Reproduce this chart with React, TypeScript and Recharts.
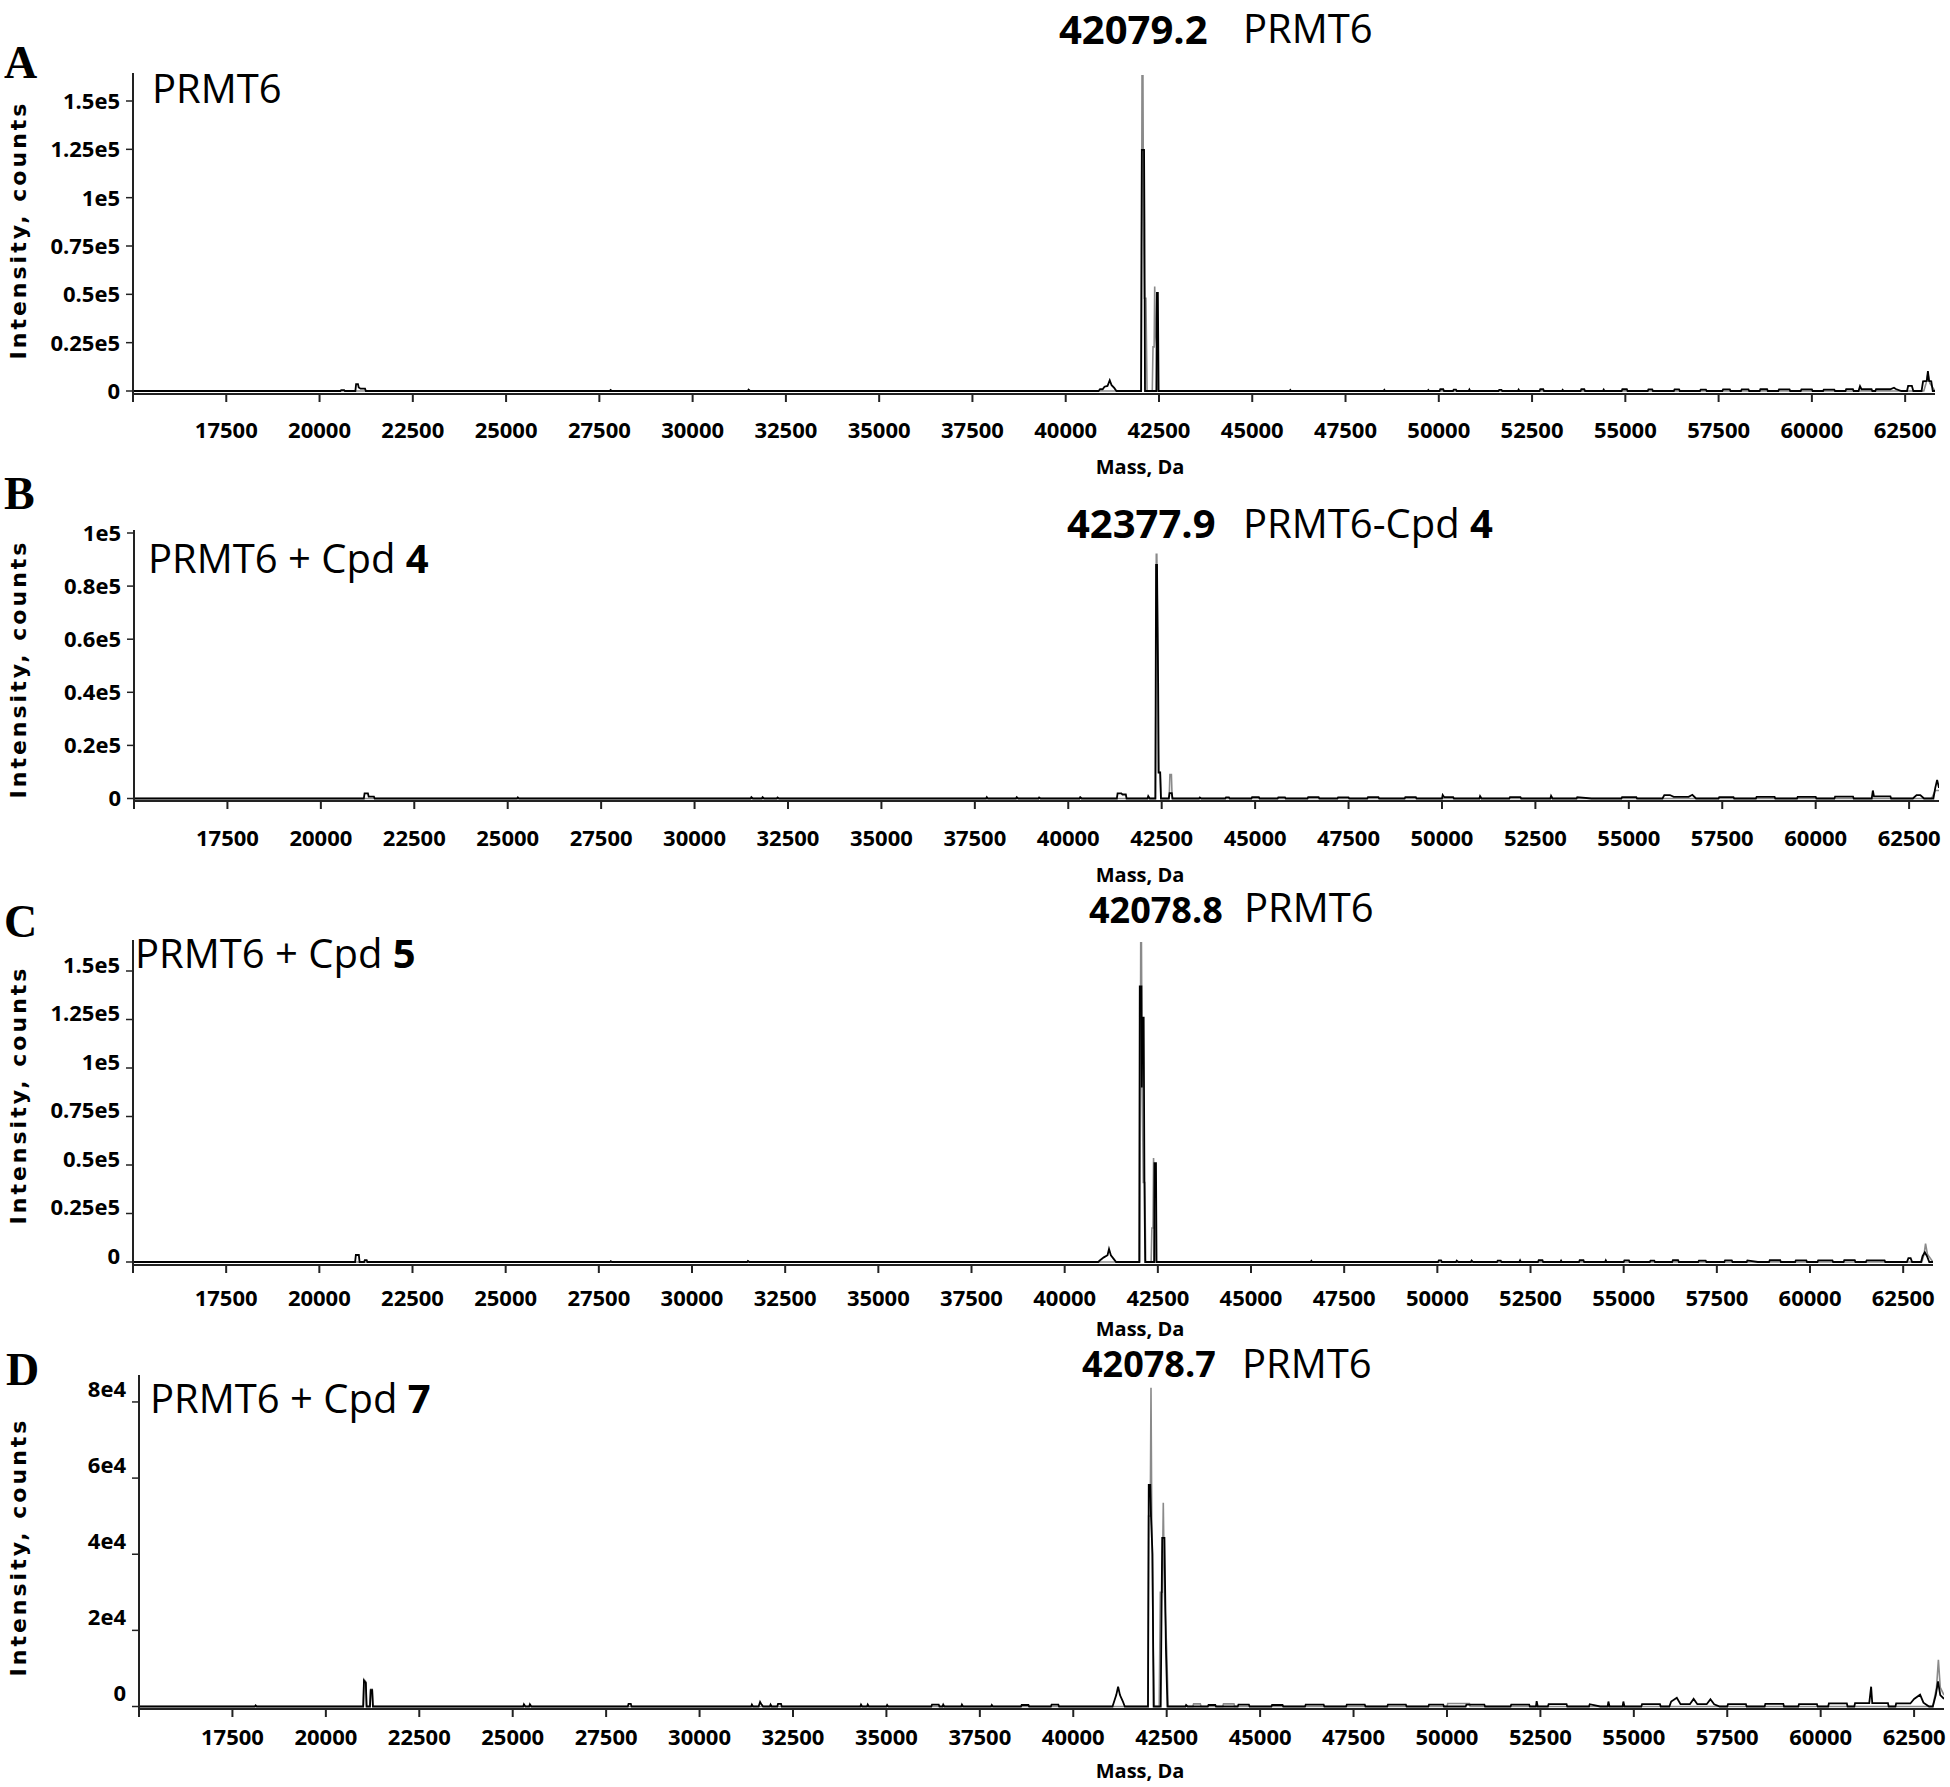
import { LineChart, Line, XAxis, YAxis } from 'recharts';

// deconvoluted intact-mass spectra, PRMT6 +/- compounds
// each trace is [mass (Da), intensity (counts)]

const X_TICKS = [15000, 17500, 20000, 22500, 25000, 27500, 30000, 32500, 35000, 37500, 40000, 42500, 45000, 47500, 50000, 52500, 55000, 57500, 60000, 62500];

const AC_Y_TICKS = [0, 25000, 50000, 75000, 100000, 125000, 150000];
const AC_Y_LABELS = ['0', '0.25e5', '0.5e5', '0.75e5', '1e5', '1.25e5', '1.5e5'];
const B_Y_TICKS = [0, 20000, 40000, 60000, 80000, 100000];
const B_Y_LABELS = ['0', '0.2e5', '0.4e5', '0.6e5', '0.8e5', '1e5'];
const D_Y_TICKS = [0, 20000, 40000, 60000, 80000];
const D_Y_LABELS = ['0', '2e4', '4e4', '6e4', '8e4'];

const aBlack: [number, number][] = [
  [15000, 0], [20560, 0], [20580, 500], [20660, 500], [20680, 0],
  [20960, 0], [20980, 3600], [21030, 3600], [21050, 1800], [21100, 1200], [21220, 1200], [21240, 0],
  [27780, 0], [27800, 500], [27840, 0], [31480, 0], [31500, 700], [31540, 0],
  [40880, 0], [40920, 900], [40990, 900], [41040, 2200], [41120, 2600], [41180, 5600], [41230, 3000], [41300, 1600], [41360, 0],
  [42020, 0], [42040, 124700], [42100, 124700], [42110, 87500], [42125, 0],
  [42430, 0], [42445, 50700], [42470, 50700], [42490, 0],
  [46000, 0], [46020, 500], [46040, 0], [48520, 0], [48540, 600], [48560, 0], [49700, 0], [49720, 500], [49740, 0],
  [50020, 0], [50040, 900], [50120, 900], [50140, 0], [50380, 0], [50400, 700], [50460, 700], [50480, 0],
  [50800, 0], [50820, 800], [50840, 0], [51600, 0], [51620, 600], [51680, 600], [51700, 0],
  [52120, 0], [52140, 700], [52160, 0], [52700, 0], [52720, 900], [52800, 900], [52820, 0],
  [53300, 0], [53320, 600], [53340, 0], [53800, 0], [53820, 900], [53900, 900], [53920, 0],
  [54400, 0], [54420, 700], [54440, 0], [54900, 0], [54920, 900], [55040, 900], [55060, 0],
  [55600, 0], [55620, 800], [55720, 800], [55740, 0], [56300, 0], [56320, 800], [56440, 800], [56460, 0],
  [57000, 0], [57020, 700], [57160, 700], [57180, 0], [57600, 0], [57620, 800], [57800, 800], [57820, 0],
  [58100, 0], [58120, 800], [58300, 800], [58320, 0], [58600, 0], [58620, 900], [58800, 900], [58820, 0],
  [59100, 0], [59120, 800], [59400, 800], [59420, 0], [59700, 0], [59720, 800], [60000, 800], [60020, 0],
  [60300, 0], [60320, 700], [60600, 700], [60620, 0], [60900, 0], [60920, 1000], [61100, 1000], [61120, 0],
  [61250, 0], [61290, 2500], [61330, 900], [61600, 900], [61620, 0],
  [61700, 0], [61720, 900], [62100, 900], [62200, 1700], [62250, 1000], [62400, 0],
  [62550, 0], [62580, 2600], [62680, 2600], [62720, 0],
  [62940, 0], [62980, 5000], [63080, 5200], [63110, 10300], [63140, 5200], [63200, 5000], [63240, 0], [63300, 0],
];
const aGray: [number, number][] = [
  [15000, 0], [42025, 0], [42045, 163000], [42070, 163000], [42085, 90000], [42110, 48000], [42150, 48000], [42180, 0],
  [42320, 0], [42340, 22800], [42370, 22800], [42385, 54000], [42405, 30000], [42440, 22800], [42470, 0],
  [63000, 0], [63060, 4000], [63110, 9000], [63160, 4000], [63300, 0],
];

const bBlack: [number, number][] = [
  [15000, 0], [21150, 0], [21170, 1900], [21260, 1900], [21280, 700], [21420, 700], [21440, 0],
  [25250, 0], [25270, 400], [25300, 0],
  [31500, 0], [31520, 500], [31560, 0], [31800, 0], [31820, 500], [31860, 0], [32200, 0], [32220, 400], [32260, 0],
  [37800, 0], [37820, 500], [37850, 0], [38600, 0], [38620, 500], [38660, 0], [39200, 0], [39220, 400], [39260, 0],
  [40300, 0], [40320, 500], [40360, 0],
  [41300, 0], [41320, 1900], [41420, 1900], [41450, 1500], [41540, 1500], [41560, 0],
  [42120, 0], [42140, 900], [42180, 0],
  [42330, 0], [42350, 88000], [42375, 88000], [42390, 64700], [42405, 43600], [42420, 9800], [42460, 9800], [42480, 0],
  [42690, 0], [42710, 2000], [42770, 2000], [42790, 0],
  [43500, 0], [43520, 400], [43560, 0], [44200, 0], [44220, 400], [44300, 400], [44320, 0],
  [44900, 0], [44920, 500], [45100, 500], [45120, 0], [45600, 0], [45620, 400], [45800, 400], [45820, 0],
  [46400, 0], [46420, 500], [46700, 500], [46720, 0], [47200, 0], [47220, 400], [47500, 400], [47520, 0],
  [48000, 0], [48020, 500], [48300, 500], [48320, 0], [49000, 0], [49020, 500], [49300, 500], [49320, 0],
  [50000, 0], [50020, 1300], [50060, 500], [50300, 500], [50320, 0], [51000, 0], [51020, 900], [51060, 0],
  [51800, 0], [51820, 500], [52100, 500], [52120, 0], [52900, 0], [52920, 1000], [52960, 0],
  [53600, 0], [53620, 500], [54000, 0], [54800, 0], [54820, 500], [55200, 500], [55220, 0],
  [55900, 0], [55950, 1300], [56100, 1300], [56200, 600], [56600, 600], [56700, 1400], [56800, 0],
  [57400, 0], [57420, 500], [57800, 500], [57820, 0], [58400, 0], [58420, 600], [58900, 600], [58920, 0],
  [59500, 0], [59520, 600], [60000, 600], [60020, 0], [60500, 0], [60520, 700], [61000, 700], [61020, 0],
  [61500, 0], [61530, 3000], [61560, 800], [62000, 800], [62020, 0], [62600, 0], [62700, 1300], [62800, 1300], [62900, 0],
  [63150, 0], [63200, 4000], [63250, 7000], [63300, 4000],
];
const bGray: [number, number][] = [
  [15000, 0], [42335, 0], [42355, 92000], [42370, 92000], [42395, 55000], [42410, 9800], [42460, 9800], [42480, 0],
  [42700, 0], [42720, 9000], [42760, 9000], [42780, 0], [63100, 0], [63200, 3000], [63300, 3000],
];

const cBlack: [number, number][] = [
  [15000, 0], [20960, 0], [20980, 3600], [21060, 3600], [21080, 0], [21200, 0], [21220, 1000], [21270, 1000], [21290, 0],
  [27800, 0], [27820, 400], [27850, 0], [31480, 0], [31500, 500], [31540, 0],
  [40900, 0], [40950, 900], [41050, 2400], [41150, 3500], [41190, 6700], [41240, 3500], [41320, 1500], [41380, 0],
  [42000, 0], [42015, 142000], [42060, 142000], [42070, 90000], [42090, 126000], [42120, 126000], [42140, 41000], [42160, 0],
  [42400, 0], [42410, 51000], [42450, 51000], [42465, 0],
  [46600, 0], [46620, 600], [46640, 0],
  [50020, 0], [50040, 800], [50100, 800], [50120, 0], [50500, 0], [50520, 700], [50560, 0], [50900, 0], [50920, 800], [50960, 0],
  [51600, 0], [51620, 700], [51700, 700], [51720, 0], [52200, 0], [52220, 800], [52240, 0], [52700, 0], [52720, 900], [52820, 900], [52840, 0],
  [53300, 0], [53320, 700], [53340, 0], [53800, 0], [53820, 900], [53920, 900], [53940, 0], [54500, 0], [54520, 800], [54540, 0],
  [55000, 0], [55020, 800], [55140, 800], [55160, 0], [55700, 0], [55720, 700], [55820, 700], [55840, 0],
  [56300, 0], [56320, 900], [56460, 900], [56480, 0], [57000, 0], [57020, 700], [57200, 700], [57220, 0],
  [57700, 0], [57720, 800], [57900, 800], [57920, 0], [58300, 0], [58320, 800], [58600, 0], [58900, 0], [58920, 900], [59200, 900], [59220, 0],
  [59600, 0], [59620, 800], [59900, 800], [59920, 0], [60200, 0], [60220, 800], [60600, 800], [60620, 0],
  [60900, 0], [60920, 1000], [61200, 1000], [61220, 0], [61500, 0], [61520, 800], [62000, 800], [62020, 0],
  [62600, 0], [62640, 2000], [62700, 2000], [62740, 0], [62980, 0], [63020, 3000], [63080, 5000], [63140, 3000], [63200, 0], [63300, 0],
];
const cGray: [number, number][] = [
  [15000, 0], [42020, 0], [42040, 164600], [42060, 164600], [42080, 90000], [42110, 41000], [42150, 41000], [42175, 0],
  [42320, 0], [42340, 17500], [42370, 17500], [42385, 53600], [42410, 30000], [42430, 17500], [42450, 0],
  [63000, 0], [63060, 4000], [63100, 9500], [63150, 4000], [63300, 0],
];

const dBlack: [number, number][] = [
  [15000, 0], [18100, 0], [18120, 300], [18150, 0],
  [21000, 0], [21020, 6800], [21070, 6200], [21090, 0], [21180, 0], [21200, 4300], [21240, 4300], [21260, 0],
  [25280, 0], [25300, 600], [25340, 0], [25440, 0], [25460, 600], [25500, 0], [28080, 0], [28100, 700], [28160, 700], [28180, 0],
  [31380, 0], [31400, 500], [31430, 0], [31580, 0], [31620, 1200], [31660, 500], [31700, 0], [31880, 0], [31900, 500], [31930, 0],
  [32080, 0], [32100, 700], [32180, 700], [32200, 0],
  [34300, 0], [34320, 500], [34350, 0], [34480, 0], [34500, 500], [34530, 0], [35000, 0], [35020, 400], [35050, 0],
  [36200, 0], [36220, 500], [36400, 500], [36420, 0], [36500, 0], [36520, 500], [36550, 0], [37000, 0], [37020, 500], [37050, 0],
  [37800, 0], [37820, 400], [37850, 0], [38600, 0], [38620, 400], [38800, 400], [38820, 0], [39400, 0], [39420, 500], [39600, 500], [39620, 0],
  [41050, 0], [41100, 1500], [41150, 3000], [41200, 5200], [41250, 3000], [41320, 1500], [41380, 0],
  [42000, 0], [42020, 58200], [42060, 58200], [42080, 50000], [42120, 40000], [42150, 0],
  [42340, 0], [42380, 44300], [42440, 44300], [42480, 15000], [42520, 0],
  [43000, 0], [43020, 400], [43060, 0], [43600, 0], [43620, 400], [43800, 400], [43820, 0], [44400, 0], [44420, 500], [44700, 500], [44720, 0],
  [45300, 0], [45320, 400], [45600, 400], [45620, 0], [46200, 0], [46220, 500], [46700, 500], [46720, 0],
  [47300, 0], [47320, 500], [47800, 500], [47820, 0], [48400, 0], [48420, 500], [48900, 500], [48920, 0],
  [49500, 0], [49520, 500], [49900, 500], [49920, 0], [50500, 0], [50520, 500], [51000, 500], [51020, 0],
  [51700, 0], [51720, 500], [52200, 500], [52220, 0], [52380, 0], [52400, 1400], [52430, 0], [52700, 0], [52720, 600], [53200, 600], [53220, 0],
  [53800, 0], [53820, 600], [54100, 0], [54300, 0], [54320, 1300], [54350, 0], [54700, 0], [54720, 1300], [54750, 0],
  [55200, 0], [55220, 600], [55700, 600], [55720, 0],
  [55950, 0], [56000, 1300], [56150, 2300], [56250, 600], [56500, 600], [56600, 2000], [56700, 600], [56950, 600], [57050, 1900], [57150, 600], [57300, 0],
  [57500, 0], [57520, 600], [58000, 600], [58020, 0], [58500, 0], [58520, 700], [59000, 700], [59020, 0],
  [59400, 0], [59420, 600], [59900, 600], [59920, 0], [60200, 0], [60220, 800], [60700, 800], [60720, 0],
  [60900, 0], [60920, 900], [61300, 900], [61350, 5200], [61380, 900], [61800, 900], [61820, 0],
  [62000, 0], [62020, 800], [62400, 800], [62500, 2000], [62660, 3100], [62750, 1000], [62900, 0],
  [63000, 0], [63080, 3000], [63140, 6600], [63200, 3000], [63300, 2000],
];
const dGray: [number, number][] = [
  [15000, 0], [21000, 0], [21020, 7100], [21070, 6500], [21090, 0], [21180, 0], [21200, 4500], [21240, 4500], [21260, 0],
  [42000, 0], [42016, 50000], [42060, 50000], [42080, 83700], [42100, 50000], [42140, 15000], [42170, 0],
  [42300, 0], [42330, 30000], [42380, 30000], [42409, 53500], [42440, 30000], [42500, 15000], [42540, 0],
  [43200, 0], [43220, 700], [43400, 700], [43420, 0], [44000, 0], [44020, 700], [44300, 700], [44320, 0],
  [50000, 0], [50020, 800], [50600, 800], [50620, 0],
  [63000, 0], [63100, 5000], [63150, 12300], [63200, 5000], [63300, 3000],
];

const toPts = (arr: [number, number][]) => arr.map(([m, v]) => ({ m, v }));

const SANS = "'Open Sans', sans-serif";

type PanelProps = {
  top: number;
  plotTop: number;
  plotBottom: number;
  left: number;
  right: number;
  yDomain: [number, number];
  yTicks: number[];
  yLabels: string[];
  labelShift: number;
  xTickMargin: number;
  black: [number, number][];
  gray: [number, number][];
};

function Spectrum(p: PanelProps) {
  const height = p.plotBottom - p.top + 60;
  const yTick = (t: any) => {
    const i = p.yTicks.indexOf(t.payload.value);
    return (
      <text x={t.x} y={t.y + p.labelShift} dy="0.36em" textAnchor="end" fill="#000" fontSize={22} fontWeight={700} fontFamily={SANS}>
        {p.yLabels[i]}
      </text>
    );
  };
  return (
    <div style={{ position: 'absolute', left: 0, top: p.top, width: 1950, height }}>
      <LineChart width={1950} height={height} margin={{ top: p.plotTop - p.top, right: p.right, left: 0, bottom: 0 }}>
        <XAxis
          type="number"
          dataKey="m"
          domain={[15000, 63300]}
          ticks={X_TICKS}
          interval={0}
          allowDataOverflow
          height={60}
          tickSize={8}
          tickMargin={p.xTickMargin}
          tickFormatter={(v: number) => (v === 15000 ? '' : String(v))}
          axisLine={{ stroke: '#222', strokeWidth: 2 }}
          tickLine={{ stroke: '#222', strokeWidth: 2 }}
          tick={{ fill: '#000', fontSize: 22, fontWeight: 700, fontFamily: SANS }}
        />
        <YAxis
          type="number"
          domain={p.yDomain}
          ticks={p.yTicks}
          interval={0}
          allowDataOverflow
          width={p.left}
          tickSize={7}
          tickMargin={6}
          axisLine={{ stroke: '#222', strokeWidth: 2 }}
          tickLine={{ stroke: '#222', strokeWidth: 1.5 }}
          tick={yTick}
        />
        <Line data={toPts(p.gray)} dataKey="v" type="linear" stroke="#8a8a8a" strokeWidth={1.6} dot={false} activeDot={false} isAnimationActive={false} />
        <Line data={toPts(p.black)} dataKey="v" type="linear" stroke="#000" strokeWidth={1.8} dot={false} activeDot={false} isAnimationActive={false} />
      </LineChart>
    </div>
  );
}

const letter = { fontFamily: "'Liberation Serif', 'Times New Roman', serif", fontWeight: 700, fontSize: 46 } as const;
const big = { fontFamily: SANS, fontSize: 40 } as const;
const bigNum = { fontFamily: SANS, fontSize: 40, fontWeight: 700 } as const;
const smallNum = { fontFamily: SANS, fontSize: 36, fontWeight: 700 } as const;
const yLab = { fontFamily: "'DejaVu Sans', sans-serif", fontWeight: 700, fontSize: 22, letterSpacing: 3 } as const;
const massLab = { fontFamily: SANS, fontWeight: 700, fontSize: 20 } as const;

function YLabel({ cy }: { cy: number }) {
  return (
    <text x={18} y={cy} transform={`rotate(-90 18 ${cy})`} textAnchor="middle" dominantBaseline="central" style={yLab}>
      Intensity, counts
    </text>
  );
}

export default function App() {
  return (
    <div style={{ position: 'absolute', left: 0, top: 0, width: 1950, height: 1787, background: '#fff', overflow: 'hidden' }}>
      <Spectrum top={0} plotTop={73} plotBottom={394} left={133} right={15} yDomain={[-1552, 164483]} yTicks={AC_Y_TICKS} yLabels={AC_Y_LABELS} labelShift={0} xTickMargin={20} black={aBlack} gray={aGray} />
      <Spectrum top={470} plotTop={530} plotBottom={801} left={134} right={11} yDomain={[-942, 101131]} yTicks={B_Y_TICKS} yLabels={B_Y_LABELS} labelShift={0} xTickMargin={21} black={bBlack} gray={bGray} />
      <Spectrum top={890} plotTop={940} plotBottom={1265} left={133} right={17} yDomain={[-1546, 165979]} yTicks={AC_Y_TICKS} yLabels={AC_Y_LABELS} labelShift={-6} xTickMargin={17} black={cBlack} gray={cGray} />
      <Spectrum top={1345} plotTop={1375} plotBottom={1709} left={139} right={6} yDomain={[-656, 87082]} yTicks={D_Y_TICKS} yLabels={D_Y_LABELS} labelShift={-13} xTickMargin={12} black={dBlack} gray={dGray} />

      <svg width={1950} height={1787} style={{ position: 'absolute', left: 0, top: 0, pointerEvents: 'none' }}>
        <text x={4} y={78} style={letter}>A</text>
        <text x={4} y={509} style={letter}>B</text>
        <text x={4} y={937} style={letter}>C</text>
        <text x={6} y={1385} style={letter}>D</text>

        <text x={1059} y={44} style={bigNum}>42079.2</text>
        <text x={1243} y={43} style={big}>PRMT6</text>
        <text x={1067} y={538} style={bigNum}>42377.9</text>
        <text x={1243} y={538} style={big}>PRMT6-Cpd <tspan fontWeight={700}>4</tspan></text>
        <text x={1089} y={923} style={smallNum}>42078.8</text>
        <text x={1244} y={922} style={big}>PRMT6</text>
        <text x={1082} y={1377} style={smallNum}>42078.7</text>
        <text x={1242} y={1378} style={big}>PRMT6</text>

        <text x={152} y={103} style={big}>PRMT6</text>
        <text x={148} y={573} style={big}>PRMT6 + Cpd <tspan fontWeight={700}>4</tspan></text>
        <text x={135} y={968} style={big}>PRMT6 + Cpd <tspan fontWeight={700}>5</tspan></text>
        <text x={150} y={1413} style={big}>PRMT6 + Cpd <tspan fontWeight={700}>7</tspan></text>

        <YLabel cy={230} />
        <YLabel cy={669} />
        <YLabel cy={1095} />
        <YLabel cy={1547} />

        <text x={1140} y={474} textAnchor="middle" style={massLab}>Mass, Da</text>
        <text x={1140} y={882} textAnchor="middle" style={massLab}>Mass, Da</text>
        <text x={1140} y={1336} textAnchor="middle" style={massLab}>Mass, Da</text>
        <text x={1140} y={1778} textAnchor="middle" style={massLab}>Mass, Da</text>
      </svg>
    </div>
  );
}
